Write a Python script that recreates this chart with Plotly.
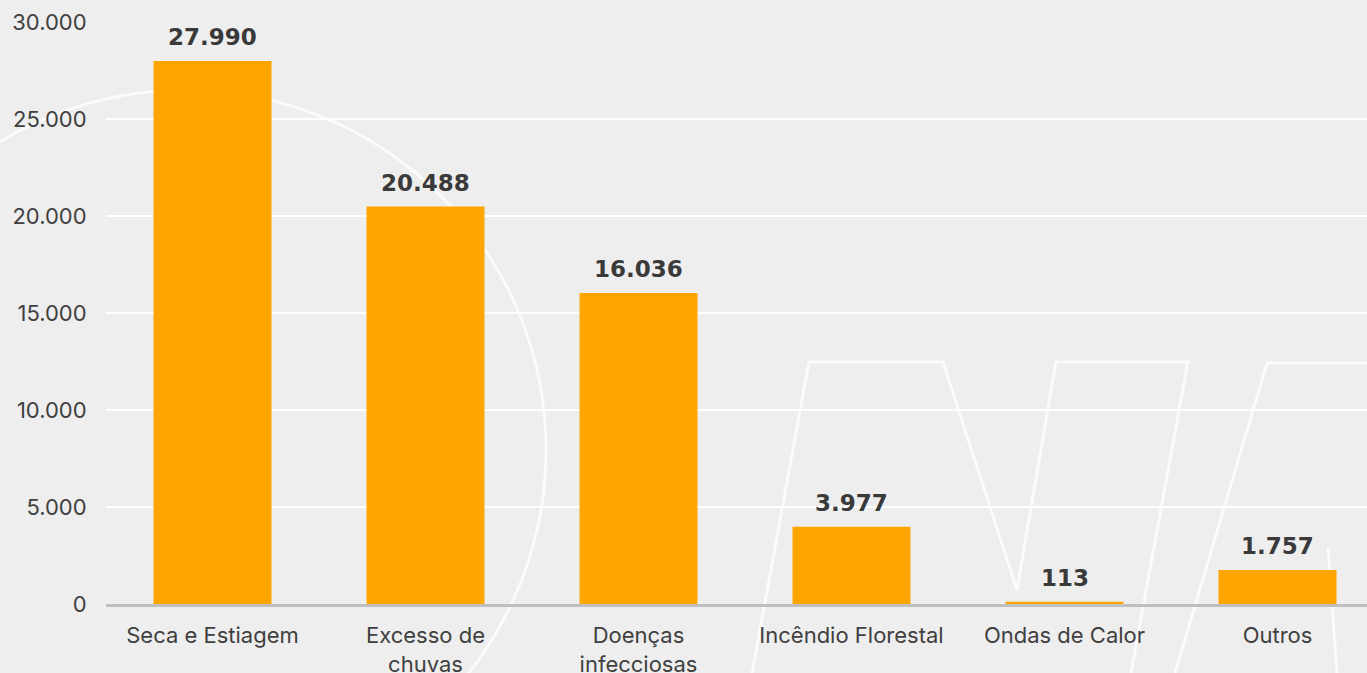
import plotly.graph_objects as go

categories = ["Seca e Estiagem", "Excesso de<br>chuvas", "Doenças<br>infecciosas",
              "Incêndio Florestal", "Ondas de Calor", "Outros"]
values = [27990, 20488, 16036, 3977, 113, 1757]
tick_vals = [0, 5000, 10000, 15000, 20000, 25000, 30000]
tick_text = ["0", "5.000", "10.000", "15.000", "20.000", "25.000", "30.000"]
labels = [f"{v:,}".replace(",", ".") for v in values]

# plot area runs slightly past the right edge of the visible window (as in the source)
W, H = 1384, 673
ML, MR, MT, MB = 106, 0, 22, 69
PW, PH = W - ML - MR, H - MT - MB


def px(x, y):
    return (x - ML) / PW, (H - MB - y) / PH


fig = go.Figure(go.Bar(
    x=categories, y=values, marker=dict(color="#FFA500", line=dict(width=0)),
    hoverinfo="skip",
))

for c, v, t in zip(categories, values, labels):
    fig.add_annotation(x=c, y=v, text=t, showarrow=False, yanchor="bottom",
                       yshift=9,
                       font=dict(family="DejaVu Sans", size=23, color="#3a3a3a", weight="bold"))

# faint watermark decoration
wm = dict(color="rgba(255,255,255,0.75)", width=3)
cx0, cy0 = px(-174, 810)
cx1, cy1 = px(546, 90)
fig.add_shape(type="circle", xref="paper", yref="paper", x0=cx0, y0=cy0, x1=cx1, y1=cy1,
              line=wm, layer="below")


def path(points):
    s = ""
    for i, (a, b) in enumerate(points):
        u, v = px(a, b)
        s += ("M" if i == 0 else "L") + f"{u:.4f},{v:.4f} "
    return s


for pts in [
    [(752, 673), (809, 362), (943, 362), (1017, 590), (1056, 362), (1188, 362), (1131, 673)],
    [(1175, 673), (1267, 363), (1384, 363)],
    [(1328, 547), (1337, 673)],
]:
    fig.add_shape(type="path", xref="paper", yref="paper", path=path(pts), line=wm, layer="below")

fig.update_layout(
    width=W, height=H,
    margin=dict(l=ML, r=MR, t=MT, b=MB, autoexpand=False),
    paper_bgcolor="#eeeeee", plot_bgcolor="#eeeeee",
    bargap=0.446,
    showlegend=False,
    font=dict(family="Inter", color="#404040"),
)
fig.update_xaxes(
    automargin=False,
    showline=True, linecolor="#bfbfbf", linewidth=3,
    ticks="outside", ticklen=10, tickcolor="rgba(0,0,0,0)",
    tickfont=dict(family="Inter", size=22, color="#404040"),
    showgrid=False,
)
fig.update_yaxes(
    automargin=False,
    range=[0, 30000], tickvals=tick_vals, ticktext=tick_text,
    showgrid=True, gridcolor="#ffffff", gridwidth=2, zeroline=False,
    ticks="outside", ticklen=14, tickcolor="rgba(0,0,0,0)",
    tickfont=dict(family="Inter", size=22, color="#404040"),
)

fig.write_html("out.html", config={"displayModeBar": False},
               post_script="document.body.style.margin='0';document.body.style.overflow='hidden';"
                           "document.documentElement.style.overflow='hidden';")
